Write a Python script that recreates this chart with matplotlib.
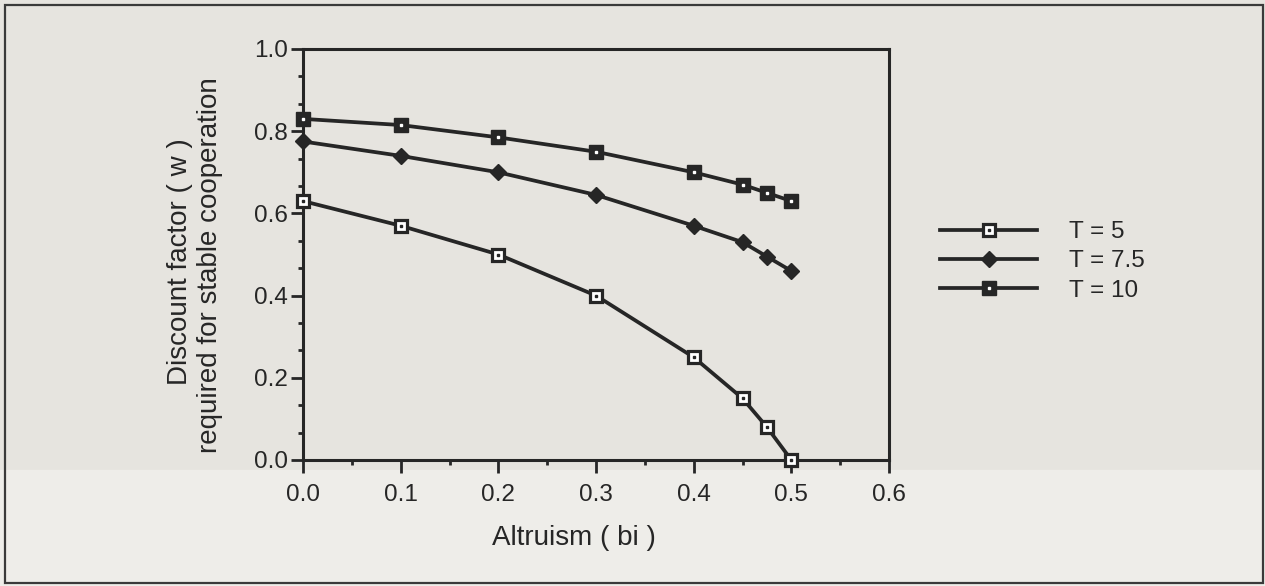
import matplotlib
matplotlib.use('Agg')
import matplotlib.pyplot as plt
from matplotlib.ticker import MultipleLocator, AutoMinorLocator
from matplotlib.patches import Rectangle

# altruism levels and required discount factor for each T
altruism = [0.0, 0.1, 0.2, 0.3, 0.4, 0.45, 0.475, 0.5]
w_t5 = [0.63, 0.57, 0.50, 0.40, 0.25, 0.15, 0.08, 0.0]
w_t75 = [0.775, 0.74, 0.70, 0.645, 0.57, 0.53, 0.495, 0.46]
w_t10 = [0.83, 0.815, 0.785, 0.75, 0.70, 0.67, 0.65, 0.63]
labels = ['T = 5', 'T = 7.5', 'T = 10']

plt.rcParams['font.family'] = ['Liberation Sans', 'DejaVu Sans']

ink = '#262626'
page = '#e6e4df'
W, H = 1265, 586

fig = plt.figure(figsize=(W / 100, H / 100), dpi=100, facecolor=page)
# lighter strip at the bottom of the scanned page
fig.patches.append(Rectangle((0, 0), 1, 1 - 470 / H, transform=fig.transFigure,
                             color='#eeede9', zorder=-2))
# thin frame round the picture
fig.patches.append(Rectangle((5 / W, 3 / H), (1263 - 5) / W, (583 - 5) / H,
                             transform=fig.transFigure, fill=False,
                             ec='#3a3a3a', lw=1.6, zorder=5))

ax = fig.add_axes([303 / W, 1 - 460 / H, (889 - 303) / W, (460 - 49) / H])
ax.set_facecolor('none')

lw = 2.7
l5, = ax.plot(altruism, w_t5, color=ink, lw=lw, marker='s', ms=8, mfc='white',
              mec=ink, mew=2.3, clip_on=False, zorder=3)
d5, = ax.plot(altruism, w_t5, ls='none', marker='s', ms=2, color=ink,
              clip_on=False, zorder=4)
l75, = ax.plot(altruism, w_t75, color=ink, lw=lw, marker='D', ms=8, mfc=ink,
               mec=ink, clip_on=False, zorder=3)
l10, = ax.plot(altruism, w_t10, color=ink, lw=lw, marker='s', ms=9.5, mfc=ink,
               mec=ink, clip_on=False, zorder=3)
d10, = ax.plot(altruism, w_t10, ls='none', marker='s', ms=2, color='white',
               clip_on=False, zorder=4)

ax.set_xlim(0, 0.6)
ax.set_ylim(0, 1.0)
ax.xaxis.set_major_locator(MultipleLocator(0.1))
ax.xaxis.set_minor_locator(AutoMinorLocator(2))
ax.yaxis.set_major_locator(MultipleLocator(0.2))
ax.yaxis.set_minor_locator(AutoMinorLocator(3))
ax.xaxis.set_major_formatter(plt.FuncFormatter(lambda v, p: f'{v:.1f}'))
ax.yaxis.set_major_formatter(plt.FuncFormatter(lambda v, p: f'{v:.1f}'))

ax.tick_params(which='major', direction='out', length=9, width=2,
               labelsize=17.5, colors=ink)
ax.tick_params(which='minor', direction='out', length=3.5, width=2, colors=ink)
ax.tick_params(axis='x', which='major', pad=8)
ax.tick_params(axis='y', which='major', pad=2)
for s in ax.spines.values():
    s.set_linewidth(2.2)
    s.set_color(ink)

fig.text(574 / W, 1 - 545 / H, 'Altruism ( bi )', ha='center', va='baseline',
         fontsize=20, color=ink)
fig.text(180 / W, 1 - 262 / H, 'Discount factor ( w )', rotation=90,
         ha='center', va='center', fontsize=20, color=ink)
fig.text(210 / W, 1 - 265 / H, 'required for stable cooperation', rotation=90,
         ha='center', va='center', fontsize=20, color=ink)

ax.legend([(l5, d5), (l75,), (l10, d10)], labels, loc='upper left',
          bbox_to_anchor=(940 / W, 1 - 221 / H), bbox_transform=fig.transFigure,
          frameon=False, fontsize=17.5, handlelength=4.0, handletextpad=1.3,
          labelspacing=0.3, borderpad=0, borderaxespad=0, numpoints=1,
          labelcolor=ink)

fig.savefig('out.png', dpi=100, facecolor=page)
